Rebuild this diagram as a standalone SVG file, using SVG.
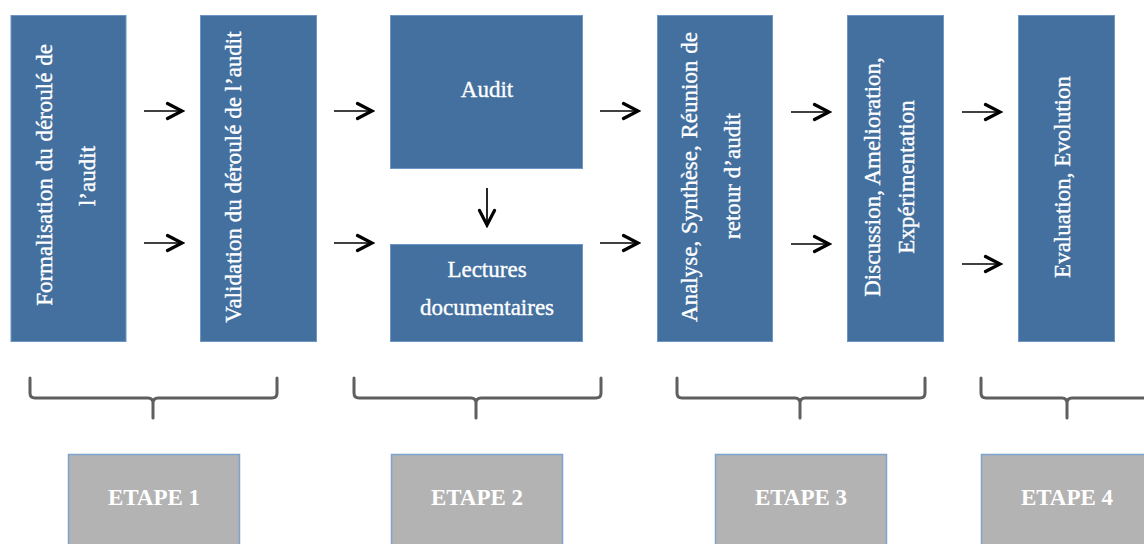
<svg xmlns="http://www.w3.org/2000/svg" width="1144" height="544" viewBox="0 0 1144 544">
  <style>
    .box { fill: #43709f; stroke: #6d96c4; stroke-width: 1; }
    .step { fill: #b3b3b3; stroke: #7ea3cf; stroke-width: 1.5; }
    .lbl { font-family: "Liberation Serif", "Times New Roman", serif; font-size: 23px; fill: #ffffff; stroke: #ffffff; stroke-width: 0.35; text-anchor: middle; }
    .steplbl { font-family: "Liberation Serif", "Times New Roman", serif; font-size: 23px; font-weight: bold; fill: #ffffff; text-anchor: middle; }
    .shaft { stroke: #000000; stroke-width: 1.7; fill: none; }
    .brace { stroke: #5f5f5f; stroke-width: 3; fill: none; stroke-linecap: round; stroke-linejoin: round; }
  </style>
  <defs>
    <marker id="chev" viewBox="0 0 20 20" refX="17" refY="10" markerWidth="20" markerHeight="20" markerUnits="userSpaceOnUse" orient="auto">
      <path d="M2.5,2.5 L17,10 L2.5,17.5" fill="none" stroke="#000" stroke-width="3.2" stroke-linecap="round"/>
    </marker>
  </defs>

  <rect width="1144" height="544" fill="#ffffff"/>

  <!-- process boxes -->
  <g id="formalisation">
    <rect class="box" x="11" y="15.5" width="115" height="326"/>
    <text class="lbl" transform="translate(52,175) rotate(-90)" word-spacing="1">Formalisation du déroulé de</text>
    <text class="lbl" transform="translate(95,176) rotate(-90)">l’audit</text>
  </g>
  <g id="validation">
    <rect class="box" x="200.5" y="15.5" width="116" height="326"/>
    <text class="lbl" transform="translate(241,177) rotate(-90)">Validation du déroulé de l’audit</text>
  </g>
  <g id="audit">
    <rect class="box" x="390.5" y="15.5" width="192" height="153"/>
    <text class="lbl" x="487" y="97">Audit</text>
  </g>
  <g id="lectures">
    <rect class="box" x="390.5" y="244.5" width="192" height="97"/>
    <text class="lbl" x="487" y="277">Lectures</text>
    <text class="lbl" x="487" y="315">documentaires</text>
  </g>
  <g id="analyse">
    <rect class="box" x="657.5" y="15.5" width="115" height="326"/>
    <text class="lbl" transform="translate(697,177) rotate(-90)" word-spacing="1">Analyse, Synthèse, Réunion de</text>
    <text class="lbl" transform="translate(740,176) rotate(-90)">retour d’audit</text>
  </g>
  <g id="discussion">
    <rect class="box" x="847.5" y="15.5" width="96" height="326"/>
    <text class="lbl" transform="translate(880,177) rotate(-90)">Discussion, Amelioration,</text>
    <text class="lbl" transform="translate(914,177) rotate(-90)">Expérimentation</text>
  </g>
  <g id="evaluation">
    <rect class="box" x="1018.5" y="15.5" width="96" height="326"/>
    <text class="lbl" transform="translate(1070,177) rotate(-90)">Evaluation, Evolution</text>
  </g>

  <!-- connectors -->
  <g id="connectors">
    <path class="shaft" marker-end="url(#chev)" d="M144,111 H182"/>
    <path class="shaft" marker-end="url(#chev)" d="M144,243 H182"/>
    <path class="shaft" marker-end="url(#chev)" d="M334,111 H372"/>
    <path class="shaft" marker-end="url(#chev)" d="M334,243 H372"/>
    <path class="shaft" marker-end="url(#chev)" d="M487,188 V225"/>
    <path class="shaft" marker-end="url(#chev)" d="M600,111 H638"/>
    <path class="shaft" marker-end="url(#chev)" d="M600,243 H638"/>
    <path class="shaft" marker-end="url(#chev)" d="M791,112 H829"/>
    <path class="shaft" marker-end="url(#chev)" d="M791,244 H829"/>
    <path class="shaft" marker-end="url(#chev)" d="M962,112 H1000"/>
    <path class="shaft" marker-end="url(#chev)" d="M962,264 H1000"/>
  </g>

  <!-- braces grouping the steps -->
  <g id="braces">
    <path class="brace" d="M30,378 V393 Q30,398 35,398 H148 Q153,398 153,403 V418 M153,403 Q153,398 158,398 H272 Q277,398 277,393 V378"/>
    <path class="brace" d="M354,378 V393 Q354,398 359,398 H471 Q476,398 476,403 V418 M476,403 Q476,398 481,398 H596 Q601,398 601,393 V378"/>
    <path class="brace" d="M677,378 V393 Q677,398 682,398 H795 Q800,398 800,403 V418 M800,403 Q800,398 805,398 H920 Q925,398 925,393 V378"/>
    <path class="brace" d="M981,378 V393 Q981,398 986,398 H1062 Q1067,398 1067,403 V418 M1067,403 Q1067,398 1072,398 H1150"/>
  </g>

  <!-- step labels -->
  <g id="etape1">
    <rect class="step" x="68.5" y="454.5" width="171" height="100"/>
    <text class="steplbl" x="154" y="505">ETAPE 1</text>
  </g>
  <g id="etape2">
    <rect class="step" x="391.5" y="454.5" width="171" height="100"/>
    <text class="steplbl" x="477" y="505">ETAPE 2</text>
  </g>
  <g id="etape3">
    <rect class="step" x="715.5" y="454.5" width="171" height="100"/>
    <text class="steplbl" x="801" y="505">ETAPE 3</text>
  </g>
  <g id="etape4">
    <rect class="step" x="981.5" y="454.5" width="171" height="100"/>
    <text class="steplbl" x="1067" y="505">ETAPE 4</text>
  </g>
</svg>
